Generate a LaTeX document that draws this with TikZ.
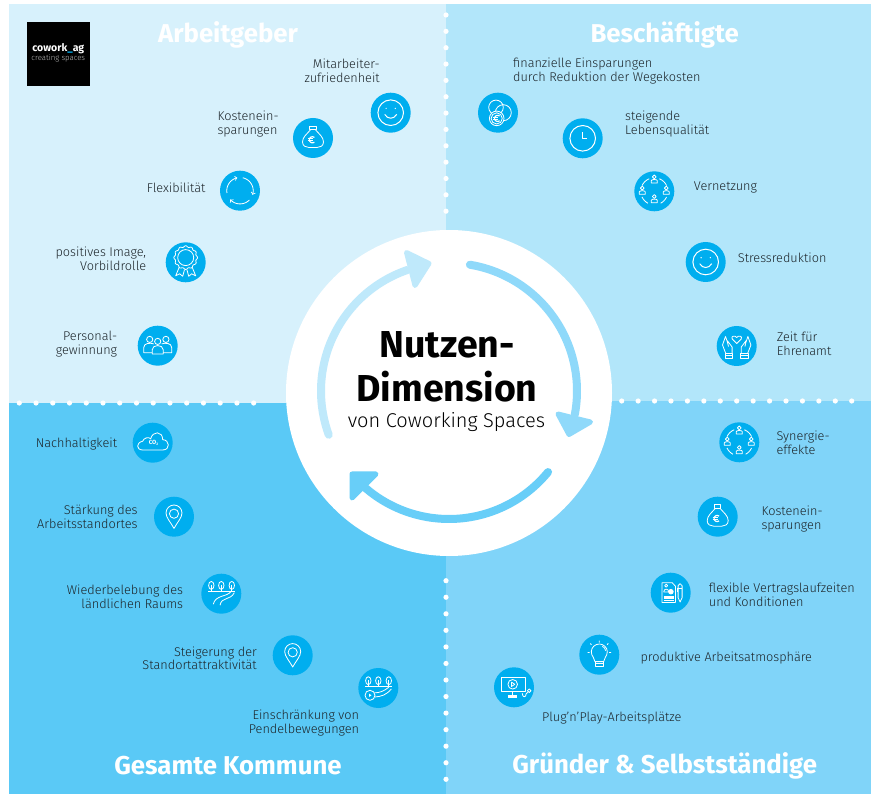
\documentclass[tikz,border=0pt]{standalone}
\usepackage{fontspec}
\setmainfont{Fira Sans}[UprightFont=* Light,BoldFont=* Bold]
\usepackage{tikz}
\definecolor{panelA}{HTML}{D7F1FC}
\definecolor{panelB}{HTML}{B2E6FA}
\definecolor{panelC}{HTML}{5AC9F6}
\definecolor{panelD}{HTML}{80D4F9}
\definecolor{ringA}{HTML}{BFE9FB}
\definecolor{ringB}{HTML}{8FD9FA}
\definecolor{ringC}{HTML}{68CEF8}
\definecolor{iconblue}{HTML}{00AEEF}
\definecolor{labgrey}{HTML}{1C2429}
\newcommand{\ringarc}[3]{plot[domain=#2:#3,samples=40,smooth] ({#1*cos(\x)},{#1*sin(\x)})}
\tikzset{
  iconbg/.style={circle,fill=iconblue,minimum size=40pt,inner sep=0pt},
  icl/.style={draw=white,line width=.8pt,line join=round},
  lab/.style={inner sep=0pt,yshift=-1pt,align=left,anchor=west,text=labgrey,font=\fontsize{12.7}{13.8}\selectfont},
  labr/.style={lab,align=right,anchor=east},
  head/.style={inner sep=0pt,text=white,font=\fontsize{25.8}{28}\selectfont\bfseries},
  ringline/.style={line width=8pt,line cap=round},
  ringhead/.style={line width=5pt,line join=round},
  wdot/.style={fill=white},
  personicon/.pic={
    \draw[icl] (0,-3.4) circle (1.9);
    \draw[icl] (-3,2.8) -- (-3,.4) .. controls (-3,-1.2) and (3,-1.2) .. (3,.4) -- (3,2.8) -- cycle;
  },
  euroicon/.pic={
    \draw[draw=white,line width=1.2pt] \ringarc{3}{50}{310};
    \draw[draw=white,line width=.9pt] (-4.6,-.9) -- (.6,-.9) (-4.6,.9) -- (.6,.9);
  },
  smileicon/.pic={
    \draw[icl,line width=1pt] (0,0) circle (12.8);
    \fill[white] (-4.6,-4.3) circle (.7) (4.6,-4.3) circle (.7);
    \draw[icl,line width=1pt] (-6,1.7) .. controls (-3,6.8) and (3,6.8) .. (6,1.7);
  },
  moneyicon/.pic={
    \draw[icl] (-3.2,-12) rectangle (3,-8.2);
    \draw[icl] (-2.5,-8.2) .. controls (-6,-4) and (-10.5,-1) .. (-10.5,4) .. controls (-10.5,8) and (-7,9.5) .. (-4,9.5) -- (4,9.5) .. controls (7,9.5) and (10.5,8) .. (10.5,4) .. controls (10.5,-1) and (6,-4) .. (2.5,-8.2);
    \pic at (-.6,1.8) {euroicon};
  },
  cycleicon/.pic={
    \draw[icl,->] \ringarc{13.2}{170}{258};
    \draw[icl,->] \ringarc{13.2}{282}{378};
    \draw[icl,->] \ringarc{13.2}{45}{138};
  },
  awardicon/.pic={
    \draw[icl] (0,-4.7) circle (8);
    \draw[icl] plot[domain=0:360,samples=73,smooth] ({(11.2+.7*cos(12*\x))*cos(\x)},{-4.7+(11.2+.7*cos(12*\x))*sin(\x)});
    \foreach \s in {-1,1} {
      \draw[icl,xscale=\s] (6.5,5) -- (10,13.5) -- (6,11.5) -- (3,14) -- (1.2,7.3);
    }
  },
  peopleicon/.pic={
    \draw[icl] (-8,-6.3) circle (3.1) (0,-4.3) circle (3.1) (8.2,-6.3) circle (3.1);
    \draw[icl] (-5.5,8.3) -- (-5.5,4) .. controls (-5.5,-1.5) and (5.5,-1.5) .. (5.5,4) -- (5.5,8.3) -- cycle;
    \foreach \s in {-1,1} {
      \draw[icl,xscale=\s] (5.5,7) -- (14,7) -- (14,2) .. controls (14,-3) and (7,-3) .. (4,-1.8);
    }
  },
  coinsicon/.pic={
    \draw[icl] (-2,-5.3) circle (7.3) (5.3,0) circle (8);
    \filldraw[icl,fill=iconblue] (-1.3,5.7) circle (7.3);
    \draw[icl] (-1.3,5.7) circle (5.6);
    \pic at (-.4,5.7) {euroicon};
  },
  clockicon/.pic={
    \draw[icl,line width=1pt] (0,0) circle (12.8);
    \draw[icl,line width=1pt] (-.3,-6) -- (-.3,.3) -- (4,.3);
  },
  networkicon/.pic={
    \pic at (0,-11) {personicon};
    \pic at (-12,.2) {personicon};
    \pic at (12,.2) {personicon};
    \pic at (0,8.6) {personicon};
    \draw[icl] \ringarc{13.5}{205}{248} \ringarc{13.5}{292}{335} \ringarc{13.5}{25}{62} \ringarc{13.5}{118}{155};
  },
  cloudicon/.pic={
    \draw[icl] (-10,7.3) .. controls (-16.5,7.3) and (-17,0) .. (-10,-1.5) .. controls (-9,-5) and (-4,-6) .. (-2,-4) .. controls (0,-12) and (10,-12) .. (10,-3) .. controls (17,-3) and (18,7.3) .. (10,7.3) -- cycle;
    \node[inner sep=0pt,text=white,font=\fontsize{6}{6}\selectfont\bfseries] (co) at (.8,.2) {CO\raisebox{-1pt}{\fontsize{3.5}{4}\selectfont 2}};
  },
  pinicon/.pic={
    \draw[icl] (0,11.7) .. controls (-3,6) and (-8,1) .. (-8,-3.7) .. controls (-8,-8.5) and (-4,-11.7) .. (0,-11.7) .. controls (4,-11.7) and (8,-8.5) .. (8,-3.7) .. controls (8,1) and (3,6) .. (0,11.7) -- cycle;
    \draw[icl] (0,-3) circle (4.6);
  },
  treesicon/.pic={
    \foreach \t in {-10,0,10.5} {
      \draw[icl] (\t,-8.3) ellipse (2.7 and 4);
      \draw[icl] (\t,-9) -- (\t,-2.6);
    }
    \draw[icl] (-13,-2.6) -- (13.5,-2.6);
  },
  roadicon/.pic={
    \pic at (0,0) {treesicon};
    \draw[icl] (10,-2.5) .. controls (6,3.5) and (-6,1) .. (-8,10.5);
    \draw[icl] (13,-1) .. controls (9,7) and (0,3) .. (-1.2,11.5);
  },
  commuteicon/.pic={
    \pic at (0,1) {treesicon};
    \draw[icl] (-8.3,7.3) circle (5);
    \fill[white] (-9.3,5.6) -- (-6.8,7.3) -- (-9.3,9) -- cycle;
    \draw[icl] (-4,4.8) .. controls (1,5) and (6,3) .. (10.5,-.8);
    \draw[icl] (-3.4,9) .. controls (3,8.5) and (8,7) .. (13,1);
  },
  contracticon/.pic={
    \draw[icl] (-8.7,-10) -- (1.5,-10) -- (4.7,-6.5) -- (4.7,9.7) -- (-8.7,9.7) -- cycle;
    \draw[icl] (-4.5,-7) circle (1.5);
    \draw[icl] (-7,-.8) .. controls (-7,-4.5) and (-2,-4.5) .. (-2,-.8) -- cycle;
    \filldraw[icl,fill=white] (.2,-1) circle (2.3);
    \fill[white] (-7,3) rectangle (3.4,6);
    \draw[icl] (-7,7.7) -- (3.4,7.7);
    \draw[icl] (7.4,-7) -- (7.4,5) -- (9.4,9.3) -- (11.4,5) -- (11.4,-7) -- (9.4,-9) -- cycle;
    \draw[icl] (7.4,-4.5) -- (11.4,-4.5) (6.3,-5) -- (6.3,-1);
  },
  bulbicon/.pic={
    \draw[icl] (-4.3,7) .. controls (-4.3,3) and (-8,2) .. (-8,-3) .. controls (-8,-7.5) and (-4,-10.7) .. (0,-10.7) .. controls (4,-10.7) and (8,-7.5) .. (8,-3) .. controls (8,2) and (4.3,3) .. (4.3,7) -- cycle;
    \draw[icl] (-4.3,7) rectangle (4.5,11.3) (-4.3,9) -- (4.5,9);
    \draw[icl] (3,-8.5) .. controls (5,-7.5) and (6,-6) .. (6.3,-4);
    \draw[icl] (0,-14) -- (0,-12) (-9,-11.2) -- (-7.8,-10) (9,-11.2) -- (7.8,-10) (-11.8,-2.2) -- (-9.8,-2.2) (11.8,-2.2) -- (9.8,-2.2);
  },
  monitoricon/.pic={
    \draw[icl] (-13,-10) rectangle (11,4.3);
    \draw[icl] (-1.3,-3) circle (4.8);
    \draw[icl] (-2.6,-5.2) -- (.8,-3) -- (-2.6,-.8) -- cycle;
    \draw[icl] (-1.2,4.3) -- (-1.2,7.7);
    \fill[white] (-5.8,7.7) rectangle (3.4,10.4);
    \draw[icl] (8.3,6) .. controls (8.3,10.5) and (12,10.5) .. (12.2,6.5) -- (13.8,4.8);
    \draw[icl] (15.2,3.4) circle (1.8);
  },
  handsicon/.pic={
    \draw[icl] (0,-2.5) -- (-4.5,-7) .. controls (-6.3,-10) and (-1.5,-11) .. (0,-8.5) .. controls (1.5,-11) and (6.3,-10) .. (4.5,-7) -- cycle;
    \foreach \s in {-1,1} {
      \draw[icl,xscale=\s] (11.7,7.3) rectangle (4,12.3) (11.7,9.2) -- (4,9.2);
      \draw[icl,xscale=\s] (11,7.3) -- (14.2,-1) -- (11.2,-9.5) -- (9.3,-4) (4.6,7.3) -- (4.6,1) -- (9.5,-5.5) (9.3,-4) -- (8.2,.5);
    }
  },
}

\begin{document}
\begin{tikzpicture}[x=1pt,y=-1pt]
\useasboundingbox (0,0) rectangle (871,794);
% panels
\fill[panelA] (9,4) rectangle (446,403);
\fill[panelB] (446,4) rectangle (871,401);
\fill[panelC] (9,403) rectangle (446,794);
\fill[panelD] (446,401) rectangle (871,794);
% dotted lines
\foreach \i in {0,...,12}
{       \fill[wdot] (446,{15+16.35*\i}) circle (2.6);
        \fill[wdot] (446,{580.7+16.55*\i}) circle (2.6);
}
\foreach \i in {0,...,14}
{       \fill[wdot] ({19.3+16.74*\i},403) circle (2.6);
        \fill[wdot] ({621.7+16.43*\i},401) circle (2.6);
}
% centre
\fill[white] (449,393) circle (163);
\draw[ringline,ringA,shift={(449,391)}] \ringarc{128}{160}{251};
\draw[ringline,ringB,shift={(449,391)}] \ringarc{128}{-80.6}{10.6};
\draw[ringline,ringC,shift={(449,391)}] \ringarc{128}{39.3}{130.9};
\filldraw[ringhead,draw=ringA,fill=ringA] (406.5,252.5) -- (429,263.5) -- (415,285.5) -- cycle;
\filldraw[ringhead,draw=ringB,fill=ringB] (558,414) -- (590.5,422) -- (569,434.5) -- cycle;
\filldraw[ringhead,draw=ringC,fill=ringC] (352,474) -- (376,474) -- (352,498) -- cycle;
\node[inner sep=0pt,font=\fontsize{37.5}{38}\selectfont\bfseries] (titleA) at (447,345) {Nutzen-};
\node[inner sep=0pt,font=\fontsize{37.5}{38}\selectfont\bfseries] (titleB) at (447,386.5) {Dimension};
\node[inner sep=0pt,font=\fontsize{20}{20}\selectfont] (titleC) at (446.5,422) {von Coworking Spaces};
% logo
\node[fill=black,minimum width=63pt,minimum height=64pt,inner sep=0pt] (logo) at (58.5,54) {};
\node[inner sep=0pt,text=white,font=\fontsize{10.5}{11}\selectfont\bfseries] (logoA) at (58.3,48.3) {cowork{\color{iconblue}\_}ag};
\node[inner sep=0pt,text=white!75!black,font=\fontsize{7.8}{8}\selectfont] (logoB) at (58.3,58) {creating spaces};
% headings
\node[head] (arbeitgeber) at (228,34.5) {Arbeitgeber};
\node[head] (beschaeftigte) at (664.7,34.5) {Beschäftigte};
\node[head] (kommune) at (228,765.5) {Gesamte Kommune};
\node[head] (gruender) at (664.7,765.5) {Gründer \& Selbstständige};
% Arbeitgeber
\node[iconbg] (zufrieden) at (390.7,112.7) {}; \pic at (zufrieden) {smileicon};
\node[iconbg] (kostenA) at (313,138) {}; \pic at (kostenA) {moneyicon};
\node[iconbg] (flex) at (240,190.7) {}; \pic at (flex) {cycleicon};
\node[iconbg] (image) at (185.7,262.3) {}; \pic at (image) {awardicon};
\node[iconbg] (personal) at (157.7,345.7) {}; \pic at (personal) {peopleicon};
\node[labr] (zufriedenlab) at (380,69.5) {Mitarbeiter-\\zufriedenheit};
\node[lab] (kostenAlab) at (217.3,122.7) {Kostenein-\\sparungen};
\node[labr] (flexlab) at (205.7,186.5) {Flexibilität};
\node[labr] (imagelab) at (146.3,257.5) {positives Image,\\Vorbildrolle};
\node[labr] (personallab) at (117.3,343) {Personal-\\gewinnung};
% Beschaeftigte
\node[iconbg] (finanz) at (498,112.7) {}; \pic at (finanz) {coinsicon};
\node[iconbg] (leben) at (582.7,138.3) {}; \pic at (leben) {clockicon};
\node[iconbg] (vernetzung) at (654.3,191.3) {}; \pic at (vernetzung) {networkicon};
\node[iconbg] (stress) at (705.7,262) {}; \pic at (stress) {smileicon};
\node[iconbg] (ehrenamt) at (736.7,346) {}; \pic at (ehrenamt) {handsicon};
\node[lab] (finanzlab) at (513,70) {finanzielle Einsparungen\\durch Reduktion der Wegekosten};
\node[lab] (lebenlab) at (625,123) {steigende\\Lebensqualität};
\node[lab] (vernetzunglab) at (693.7,186.7) {Vernetzung};
\node[lab] (stresslab) at (737.7,257) {Stressreduktion};
\node[lab] (ehrenamtlab) at (776.7,342.7) {Zeit für\\Ehrenamt};
% Gesamte Kommune
\node[iconbg] (nachhalt) at (152.7,442.7) {}; \pic at (nachhalt) {cloudicon};
\node[iconbg] (staerkung) at (174,516.7) {}; \pic at (staerkung) {pinicon};
\node[iconbg] (raum) at (221.3,593.7) {}; \pic at (raum) {roadicon};
\node[iconbg] (standort) at (292.7,655.3) {}; \pic at (standort) {pinicon};
\node[iconbg] (pendel) at (378.3,688) {}; \pic at (pendel) {commuteicon};
\node[labr] (nachhaltlab) at (117.3,443.3) {Nachhaltigkeit};
\node[labr] (staerkunglab) at (137.7,516.2) {Stärkung des\\Arbeitsstandortes};
\node[labr] (raumlab) at (183.3,595.8) {Wiederbelebung des\\ländlichen Raums};
\node[labr] (standortlab) at (257,657.2) {Steigerung der\\Standortattraktivität};
\node[labr] (pendellab) at (359.3,721.7) {Einschränkung von\\Pendelbewegungen};
% Gruender
\node[iconbg] (synergie) at (739.3,442.3) {}; \pic at (synergie) {networkicon};
\node[iconbg] (kostenB) at (717.7,516.7) {}; \pic at (kostenB) {moneyicon};
\node[iconbg] (vertrag) at (670.7,592.7) {}; \pic at (vertrag) {contracticon};
\node[iconbg] (atmo) at (599.3,654.7) {}; \pic at (atmo) {bulbicon};
\node[iconbg] (plug) at (514,687.3) {}; \pic at (plug) {monitoricon};
\node[lab] (synergielab) at (776.3,441.8) {Synergie-\\effekte};
\node[lab] (kostenBlab) at (761.3,518) {Kostenein-\\sparungen};
\node[lab] (vertraglab) at (708.7,593.5) {flexible Vertragslaufzeiten\\und Konditionen};
\node[lab] (atmolab) at (640.3,657) {produktive Arbeitsatmosphäre};
\node[lab] (pluglab) at (542,716.7) {Plug’n’Play-Arbeitsplätze};
\end{tikzpicture}
\end{document}
